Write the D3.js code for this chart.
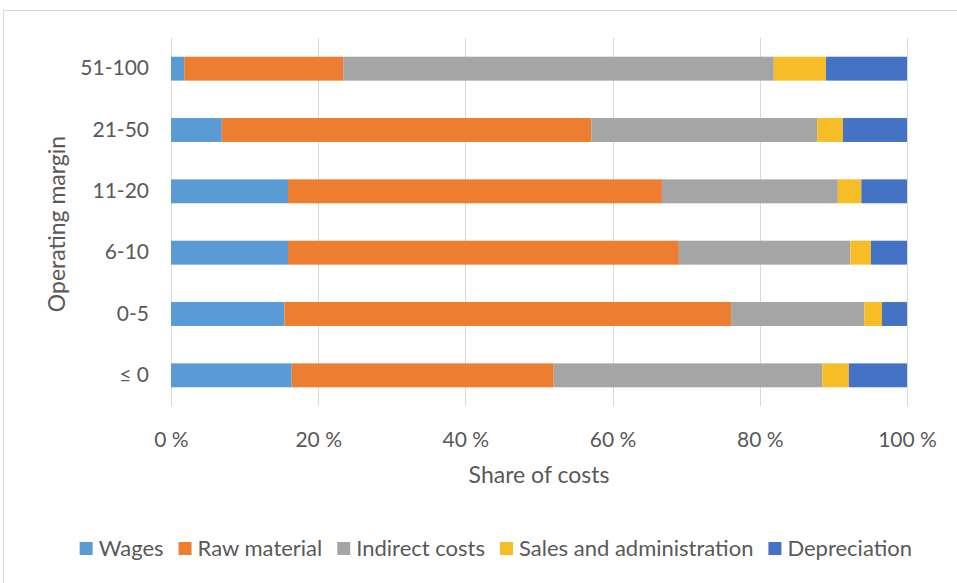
<!DOCTYPE html>
<html>
<head>
<meta charset="utf-8">
<script src="https://cdn.jsdelivr.net/npm/d3@7"></script>
<style>
  body { margin: 0; background: #ffffff; }
  text { font-family: Lato, "Open Sans", sans-serif; fill: #595959; }
</style>
</head>
<body>
<script>
// margin bands, top to bottom
const margins = ["51-100", "21-50", "11-20", "6-10", "0-5", "\u2264 0"];
const seriesNames = ["Wages", "Raw material", "Indirect costs", "Sales and administration", "Depreciation"];
const seriesColors = ["#5b9bd5", "#ed7d31", "#a5a5a5", "#f6bd26", "#4472c4"];

// share of costs in % per band (same order as margins)
const wages       = [1.8, 6.9, 15.9, 15.9, 15.4, 16.4];
const rawMaterial = [21.6, 50.2, 50.8, 53.1, 60.7, 35.6];
const indirect    = [58.5, 30.7, 23.9, 23.3, 18.1, 36.5];
const salesAdmin  = [7.1, 3.5, 3.2, 2.8, 2.4, 3.6];
const depreciation= [11.0, 8.7, 6.2, 4.9, 3.4, 7.9];

const xTicks = [0, 20, 40, 60, 80, 100];

const W = 957, H = 583;
const svg = d3.select("body").append("svg")
    .attr("width", W)
    .attr("height", H);

// outer frame
svg.append("rect")
    .attr("x", 3.5).attr("y", 10.5)
    .attr("width", W - 2).attr("height", H - 8)
    .attr("fill", "none")
    .attr("stroke", "#d9d9d9");

const rows = margins.map((m, i) => ({
    margin: m,
    "Wages": wages[i],
    "Raw material": rawMaterial[i],
    "Indirect costs": indirect[i],
    "Sales and administration": salesAdmin[i],
    "Depreciation": depreciation[i]
}));
// normalise to 100 %
rows.forEach(r => {
    let tot = d3.sum(seriesNames, k => r[k]);
    seriesNames.forEach(k => r[k] = r[k] / tot * 100);
});

const stacked = d3.stack().keys(seriesNames)(rows);

const x = d3.scaleLinear().domain([0, 100]).range([171, 907]);
const y = d3.scaleBand().domain(margins).range([38, 406]).paddingInner(0.61).paddingOuter(0.305);

// gridlines
svg.append("g")
    .selectAll("line")
    .data(xTicks)
    .join("line")
    .attr("x1", d => Math.round(x(d)) + 0.5)
    .attr("x2", d => Math.round(x(d)) + 0.5)
    .attr("y1", 38)
    .attr("y2", 406)
    .attr("stroke", "#d9d9d9");

// bars
svg.append("g")
    .selectAll("g")
    .data(stacked)
    .join("g")
    .attr("fill", (d, i) => seriesColors[i])
    .selectAll("rect")
    .data(d => d)
    .join("rect")
    .attr("x", d => x(d[0]))
    .attr("width", d => x(d[1]) - x(d[0]))
    .attr("y", d => y(d.data.margin))
    .attr("height", y.bandwidth());

// x axis labels
const xAxis = svg.append("g")
    .attr("transform", "translate(0,406)")
    .call(d3.axisBottom(x).tickValues(xTicks).tickSize(0).tickPadding(26).tickFormat(d => d + " %"));
xAxis.select(".domain").remove();
xAxis.selectAll("text")
    .attr("font-size", 21)
    .attr("fill", "#595959")
    .style("font-family", "Lato, sans-serif");

// y axis labels
const yAxis = svg.append("g")
    .attr("transform", "translate(171,0)")
    .call(d3.axisLeft(y).tickSize(0).tickPadding(22));
yAxis.select(".domain").remove();
yAxis.selectAll("text")
    .attr("font-size", 21)
    .attr("fill", "#595959")
    .style("font-family", "Lato, sans-serif");

// axis titles
svg.append("text")
    .attr("x", x(50))
    .attr("y", 483)
    .attr("text-anchor", "middle")
    .attr("font-size", 23)
    .text("Share of costs");

svg.append("text")
    .attr("transform", "translate(65,224) rotate(-90)")
    .attr("text-anchor", "middle")
    .attr("font-size", 23)
    .text("Operating margin");

// legend, right edge lines up with 912
const legend = svg.append("g");
let lx = 0;
seriesNames.forEach((name, i) => {
    const g = legend.append("g").attr("transform", `translate(${lx},0)`);
    g.append("rect")
        .attr("x", 0).attr("y", -14)
        .attr("width", 13).attr("height", 13)
        .attr("fill", seriesColors[i]);
    const t = g.append("text")
        .attr("x", 19).attr("y", 0)
        .attr("font-size", 22)
        .text(name);
    lx += 19 + t.node().getComputedTextLength() + (i < seriesNames.length - 1 ? 15 : 0);
});
legend.attr("transform", `translate(${912 - lx},556)`);
</script>
</body>
</html>
